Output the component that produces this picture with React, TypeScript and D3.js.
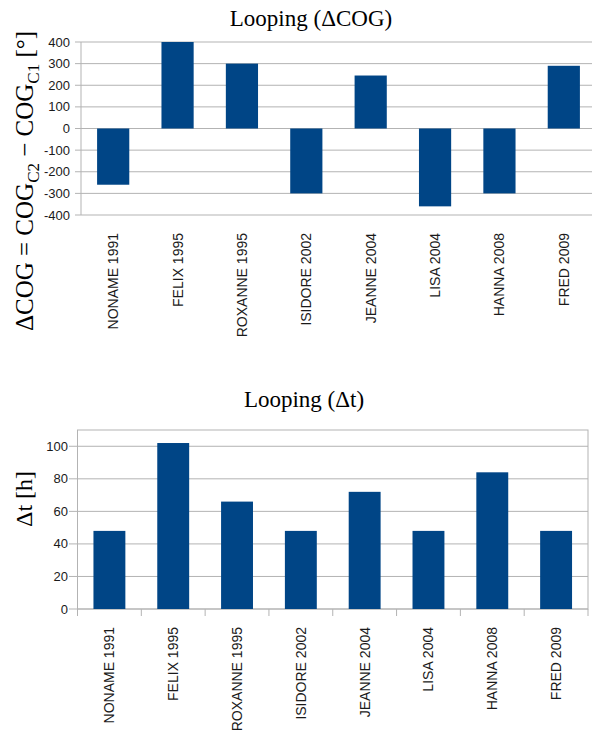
import * as d3 from 'd3';

const storms = ['NONAME 1991', 'FELIX 1995', 'ROXANNE 1995', 'ISIDORE 2002', 'JEANNE 2004', 'LISA 2004', 'HANNA 2008', 'FRED 2009'];
const deltaCog = [-260, 400, 300, -300, 245, -360, -300, 290];
const deltaT = [48, 102, 66, 48, 72, 48, 84, 48];
const cogTicks = [-400, -300, -200, -100, 0, 100, 200, 300, 400];
const tTicks = [0, 20, 40, 60, 80, 100];

const BAR = '#004586';
const GRID = '#b3b3b3';
const SANS = '"Liberation Sans", Arial, sans-serif';
const SERIF = '"Liberation Serif", "Times New Roman", serif';

function CogChart() {
  const x = d3.scaleBand().domain(storms).range([81, 596]).paddingInner(0.5).paddingOuter(0.25);
  const y = d3.scaleLinear().domain([-400, 400]).range([215, 42]);
  return (
    <g>
      <text x={311} y={26} textAnchor="middle" fontFamily={SERIF} fontSize={23}>Looping (ΔCOG)</text>
      <text transform="translate(33,181) rotate(-90)" textAnchor="middle" fontFamily={SERIF} fontSize={25}>
        ΔCOG = COG<tspan fontSize={17} dy={6}>C2</tspan><tspan dy={-6}> − COG</tspan><tspan fontSize={17} dy={6}>C1</tspan><tspan dy={-6}> [°]</tspan>
      </text>
      {cogTicks.map(t => (
        <g key={t}>
          <line x1={75} x2={596} y1={y(t)} y2={y(t)} stroke={GRID} strokeWidth={1} />
          <text x={70} y={y(t)} dy="0.35em" textAnchor="end" fontFamily={SANS} fontSize={13} fill="#1a1a1a">{t}</text>
        </g>
      ))}
      <line x1={81} x2={81} y1={y(400)} y2={y(-400)} stroke={GRID} />
      {storms.map((s, i) => (
        <rect key={s} x={x(s)} width={x.bandwidth()} y={y(Math.max(0, deltaCog[i]))}
          height={Math.abs(y(deltaCog[i]) - y(0))} fill={BAR} />
      ))}
      {storms.map(s => (
        <text key={s} transform={`translate(${x(s)! + x.bandwidth() / 2},233) rotate(-90)`} textAnchor="end"
          dominantBaseline="central" fontFamily={SANS} fontSize={14} fill="#1a1a1a">{s}</text>
      ))}
    </g>
  );
}

function TimeChart() {
  const x = d3.scaleBand().domain(storms).range([77.5, 588]).paddingInner(0.5).paddingOuter(0.25);
  const y = d3.scaleLinear().domain([0, 110]).range([609, 430]);
  const edges = storms.map(s => x(s)! - x.step() * 0.25).concat([588]);
  return (
    <g>
      <text x={304} y={407} textAnchor="middle" fontFamily={SERIF} fontSize={23}>Looping (Δt)</text>
      <text transform="translate(32,499) rotate(-90)" textAnchor="middle" fontFamily={SERIF} fontSize={24}>Δt [h]</text>
      <rect x={77.5} y={y(110)} width={588 - 77.5} height={y(0) - y(110)} fill="none" stroke={GRID} />
      {tTicks.map(t => (
        <g key={t}>
          <line x1={69} x2={588} y1={y(t)} y2={y(t)} stroke={GRID} />
          <text x={68} y={y(t)} dy="0.35em" textAnchor="end" fontFamily={SANS} fontSize={13} fill="#1a1a1a">{t}</text>
        </g>
      ))}
      {edges.map((e, i) => (
        <line key={i} x1={e} x2={e} y1={609} y2={616} stroke={GRID} />
      ))}
      {storms.map((s, i) => (
        <rect key={s} x={x(s)} width={x.bandwidth()} y={y(deltaT[i])} height={y(0) - y(deltaT[i])} fill={BAR} />
      ))}
      {storms.map(s => (
        <text key={s} transform={`translate(${x(s)! + x.bandwidth() / 2},627) rotate(-90)`} textAnchor="end"
          dominantBaseline="central" fontFamily={SANS} fontSize={14} fill="#1a1a1a">{s}</text>
      ))}
    </g>
  );
}

export default function App() {
  return (
    <svg width={592} height={730} style={{ position: 'absolute', left: 0, top: 0, background: '#fff' }}>
      <rect width={592} height={730} fill="#fff" />
      <CogChart />
      <TimeChart />
    </svg>
  );
}
